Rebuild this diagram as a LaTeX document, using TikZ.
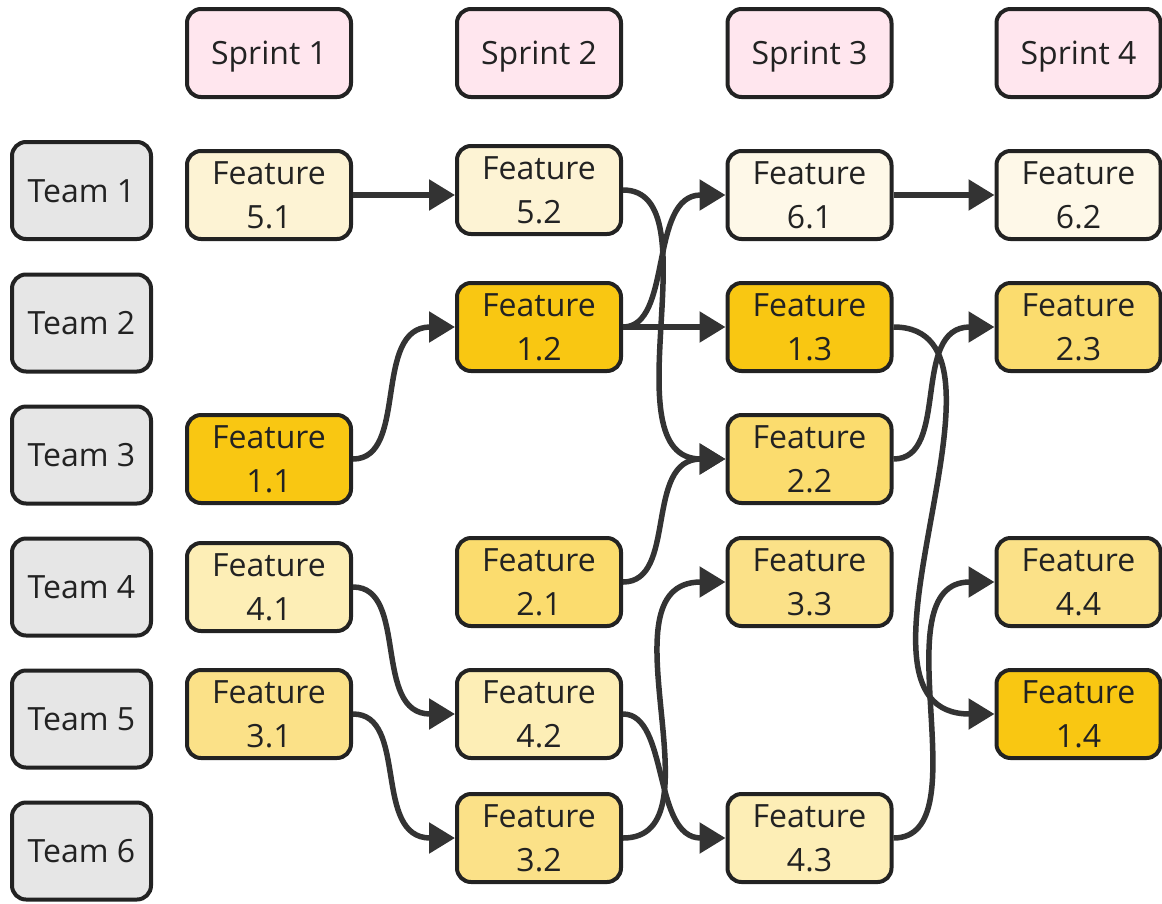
\documentclass[tikz,border=0pt]{standalone}
\usepackage{fontspec}
\setmainfont{Open Sans}
\usetikzlibrary{arrows.meta}
\definecolor{sprintfill}{HTML}{FFE6EE}
\definecolor{teamfill}{HTML}{E6E6E6}
\definecolor{fone}{HTML}{F9C712}
\definecolor{ftwo}{HTML}{FBDC6E}
\definecolor{fthree}{HTML}{FBE188}
\definecolor{ffour}{HTML}{FDEEB6}
\definecolor{ffive}{HTML}{FDF3D4}
\definecolor{fsix}{HTML}{FEF8E8}
\definecolor{edgecol}{HTML}{333333}
\definecolor{bordercol}{HTML}{222222}
\begin{document}
\begin{tikzpicture}[x=1pt,y=-1pt,
  box/.style={draw=bordercol, line width=4pt, rounded corners=14pt, inner sep=0pt, text=bordercol, font=\fontsize{32}{44}\selectfont, align=center},
  sprintbox/.style={box, fill=sprintfill, minimum width=164pt, minimum height=88pt, text height=23pt, text depth=0pt},
  teambox/.style={box, fill=teamfill, minimum width=139pt, minimum height=97pt, text height=23pt, text depth=0pt},
  featbox/.style={box, minimum width=164pt, minimum height=88pt},
  link/.style={draw=edgecol, line width=5.5pt, -{Triangle[length=26pt,width=30pt]}}
]
\useasboundingbox (0,0) rectangle (1162,903);
% sprints
\node[sprintbox] (s1) at (269,53) {Sprint 1};
\node[sprintbox] (s2) at (539,53) {Sprint 2};
\node[sprintbox] (s3) at (809.5,53) {Sprint 3};
\node[sprintbox] (s4) at (1078.5,53) {Sprint 4};
% teams
\node[teambox] (t1) at (81.5,190.5) {Team 1};
\node[teambox] (t2) at (81.5,323) {Team 2};
\node[teambox] (t3) at (81.5,455) {Team 3};
\node[teambox] (t4) at (81.5,587) {Team 4};
\node[teambox] (t5) at (81.5,719) {Team 5};
\node[teambox] (t6) at (81.5,851) {Team 6};
% features
\node[featbox, fill=ffive] (f51) at (269,195) {Feature\\5.1};
\node[featbox, fill=ffive] (f52) at (539,190) {Feature\\5.2};
\node[featbox, fill=fsix] (f61) at (809.5,195) {Feature\\6.1};
\node[featbox, fill=fsix] (f62) at (1078.5,195) {Feature\\6.2};
\node[featbox, fill=fone] (f12) at (539,327) {Feature\\1.2};
\node[featbox, fill=fone] (f13) at (809.5,327) {Feature\\1.3};
\node[featbox, fill=ftwo] (f23) at (1078.5,327) {Feature\\2.3};
\node[featbox, fill=fone] (f11) at (269,459) {Feature\\1.1};
\node[featbox, fill=ftwo] (f22) at (809.5,459) {Feature\\2.2};
\node[featbox, fill=ffour] (f41) at (269,587) {Feature\\4.1};
\node[featbox, fill=ftwo] (f21) at (539,582) {Feature\\2.1};
\node[featbox, fill=fthree] (f33) at (809.5,582) {Feature\\3.3};
\node[featbox, fill=fthree] (f44) at (1078.5,582) {Feature\\4.4};
\node[featbox, fill=fthree] (f31) at (269,714) {Feature\\3.1};
\node[featbox, fill=ffour] (f42) at (539,714) {Feature\\4.2};
\node[featbox, fill=fone] (f14) at (1078.5,714) {Feature\\1.4};
\node[featbox, fill=fthree] (f32) at (539,838) {Feature\\3.2};
\node[featbox, fill=ffour] (f43) at (809.5,838) {Feature\\4.3};
% links
\draw[link] (f51.east) -- (f51.east -| f52.west);
\draw[link] (f12.east) -- (f13.west);
\draw[link] (f61.east) -- (f62.west);
\draw[link] (f11.east) .. controls +(56,0) and +(-83,0) .. (f12.west);
\draw[link] (f41.east) .. controls +(56,0) and +(-83,0) .. (f42.west);
\draw[link] (f31.east) .. controls +(56,0) and +(-83,0) .. (f32.west);
\draw[link] (f52.east) .. controls +(92,0) and +(-119,0) .. (f22.west);
\draw[link] (f12.east) .. controls +(50,0) and +(-77,0) .. (f61.west);
\draw[link] (f21.east) .. controls +(55,0) and +(-82,0) .. (f22.west);
\draw[link] (f42.east) .. controls +(46,0) and +(-73,0) .. (f43.west);
\draw[link] (f32.east) .. controls +(102,0) and +(-129,0) .. (f33.west);
\draw[link] (f13.east) .. controls +(145,0) and +(-172,0) .. (f14.west);
\draw[link] (f22.east) .. controls +(57,0) and +(-84,0) .. (f23.west);
\draw[link] (f43.east) .. controls +(90,0) and +(-117,0) .. (f44.west);
\end{tikzpicture}
\end{document}
